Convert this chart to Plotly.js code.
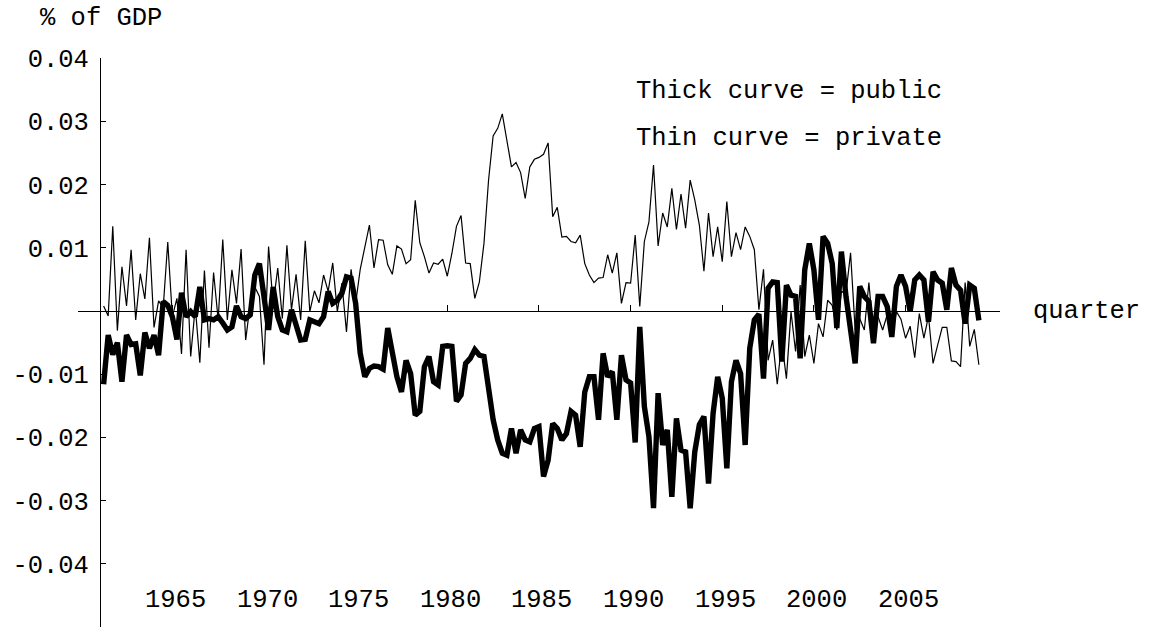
<!DOCTYPE html>
<html>
<head>
<meta charset="utf-8">
<script src="https://cdn.plot.ly/plotly-3.0.1.min.js"></script>
<style>
  html, body { margin: 0; padding: 0; background: #ffffff; }
  #chart { width: 1151px; height: 627px; }
</style>
</head>
<body>
<div id="chart"></div>
<script>
// Quarterly series, first observation 1961 Q2 (x = 1961.25), step one quarter
const firstQuarter = 1961.25;

// Private (thin curve), % of GDP
const privateSeries = [
  0.0008,-0.0008,0.0134,-0.0031,0.0070,0.0008,0.0097,-0.0014,0.0059,0.0019,
  0.0116,-0.0026,0.0016,0.0005,0.0109,-0.0009,0.0020,-0.0068,0.0097,-0.0072,
  0.0007,-0.0082,0.0064,-0.0058,0.0061,-0.0014,0.0113,-0.0014,0.0065,0.0012,
  0.0098,-0.0046,0.0012,0.0038,0.0023,-0.0085,0.0102,0.0010,0.0068,-0.0012,
  0.0104,0.0002,0.0058,-0.0014,0.0111,-0.0001,0.0032,0.0013,0.0057,0.0031,
  0.0076,-0.0001,0.0044,-0.0033,0.0066,0.0012,0.0066,0.0099,0.0136,0.0068,
  0.0113,0.0112,0.0073,0.0058,0.0103,0.0098,0.0075,0.0081,0.0175,0.0108,
  0.0086,0.0060,0.0076,0.0074,0.0082,0.0055,0.0091,0.0134,0.0151,0.0076,
  0.0075,0.0020,0.0046,0.0107,0.0207,0.0277,0.0289,0.0312,0.0268,0.0228,
  0.0235,0.0219,0.0178,0.0228,0.0240,0.0243,0.0248,0.0266,0.0149,0.0164,
  0.0117,0.0118,0.0110,0.0108,0.0120,0.0075,0.0057,0.0045,0.0052,0.0053,
  0.0089,0.0060,0.0092,0.0012,0.0045,0.0044,0.0120,0.0007,0.0110,0.0141,
  0.0231,0.0103,0.0155,0.0133,0.0194,0.0129,0.0185,0.0131,0.0207,0.0176,
  0.0136,0.0063,0.0155,0.0086,0.0133,0.0078,0.0173,0.0086,0.0124,0.0097,
  0.0133,0.0118,0.0097,0.0002,0.0066,-0.0078,-0.0046,-0.0116,-0.0049,-0.0107,
  -0.0001,-0.0064,0.0041,-0.0072,-0.0038,-0.0083,-0.0020,-0.0041,0.0017,0.0009,
  -0.0030,0.0031,0.0028,0.0092,-0.0030,-0.0012,-0.0030,0.0045,-0.0038,-0.0009,
  -0.0030,-0.0006,-0.0041,-0.0001,-0.0013,-0.0043,-0.0024,-0.0074,-0.0004,-0.0043,
  -0.0008,-0.0083,-0.0054,-0.0026,-0.0026,-0.0079,-0.0080,-0.0088,0.0045,-0.0056,
  -0.0029,-0.0085
];

// Public (thick curve), % of GDP
const publicSeries = [
  -0.0116,-0.0038,-0.0069,-0.0050,-0.0112,-0.0038,-0.0053,-0.0052,-0.0102,-0.0034,
  -0.0059,-0.0038,-0.0070,0.0015,0.0009,-0.0009,-0.0045,0.0029,-0.0009,-0.0001,
  -0.0009,0.0038,-0.0014,-0.0012,-0.0014,-0.0009,-0.0019,-0.0030,-0.0025,0.0008,
  -0.0009,-0.0012,-0.0006,0.0057,0.0075,0.0017,-0.0030,0.0038,-0.0009,-0.0030,
  -0.0033,0.0002,-0.0020,-0.0046,-0.0045,-0.0014,-0.0017,-0.0020,-0.0009,0.0031,
  0.0012,0.0017,0.0028,0.0054,0.0052,0.0012,-0.0067,-0.0104,-0.0091,-0.0087,
  -0.0088,-0.0092,-0.0027,-0.0072,-0.0104,-0.0128,-0.0078,-0.0099,-0.0165,-0.0159,
  -0.0088,-0.0072,-0.0112,-0.0117,-0.0056,-0.0055,-0.0056,-0.0143,-0.0133,-0.0083,
  -0.0075,-0.0061,-0.0070,-0.0072,-0.0125,-0.0172,-0.0204,-0.0225,-0.0228,-0.0186,
  -0.0225,-0.0188,-0.0204,-0.0207,-0.0186,-0.0183,-0.0262,-0.0236,-0.0178,-0.0186,
  -0.0204,-0.0194,-0.0159,-0.0165,-0.0215,-0.0128,-0.0104,-0.0104,-0.0172,-0.0067,
  -0.0104,-0.0096,-0.0172,-0.0070,-0.0109,-0.0114,-0.0208,-0.0025,-0.0151,-0.0199,
  -0.0312,-0.0130,-0.0212,-0.0188,-0.0294,-0.0170,-0.0220,-0.0223,-0.0312,-0.0223,
  -0.0180,-0.0167,-0.0273,-0.0162,-0.0104,-0.0138,-0.0249,-0.0112,-0.0078,-0.0099,
  -0.0212,-0.0059,-0.0014,-0.0005,-0.0107,0.0036,0.0046,0.0045,-0.0080,0.0041,
  0.0025,0.0023,-0.0075,0.0065,0.0107,0.0065,-0.0014,0.0118,0.0107,0.0075,
  -0.0027,0.0094,0.0023,-0.0025,-0.0083,0.0039,0.0023,0.0015,-0.0051,0.0023,
  0.0023,0.0007,-0.0041,0.0039,0.0057,0.0039,-0.0001,0.0049,0.0057,0.0049,
  -0.0017,0.0062,0.0049,0.0044,0.0002,0.0068,0.0041,0.0033,-0.0020,0.0041,
  0.0036,-0.0015
];

// Axis ticks and labels
const yTickValues = [0.04, 0.03, 0.02, 0.01, -0.01, -0.02, -0.03, -0.04];
const yTickLabels = ["0.04", "0.03", "0.02", "0.01", "-0.01", "-0.02", "-0.03", "-0.04"];
const xTickValues = [1965, 1970, 1975, 1980, 1985, 1990, 1995, 2000, 2005];
const xTickLabels = ["1965", "1970", "1975", "1980", "1985", "1990", "1995", "2000", "2005"];

const yAxisLabel = "% of GDP";
const xAxisLabel = "quarter";
const keyLines = ["Thick curve = public", "Thin curve = private"];

const quarters = publicSeries.map((_, i) => firstQuarter + i / 4);

const FONT = "Liberation Mono, Courier New, monospace";
const FS = 25.5;
const textFont = { family: FONT, size: FS, color: "#000000" };

const xRange = [1959.853, 2010.152];
const traces = [
  {
    x: quarters, y: privateSeries, type: "scatter", mode: "lines",
    line: { color: "#000000", width: 1.2 }, hoverinfo: "skip", name: "private"
  },
  {
    x: quarters, y: publicSeries, type: "scatter", mode: "lines",
    line: { color: "#000000", width: 5.4 }, hoverinfo: "skip", name: "public"
  }
];

const annotations = [
  { xref: "paper", yref: "paper", x: 38 / 1151, y: 1 - 18 / 627,
    xanchor: "left", yanchor: "middle", text: yAxisLabel, showarrow: false, font: textFont },
  { xref: "paper", yref: "y", x: 1031 / 1151, y: 0,
    xanchor: "left", yanchor: "middle", text: xAxisLabel, showarrow: false, font: textFont },
  { xref: "paper", yref: "paper", x: 634 / 1151, y: 1 - 91 / 627,
    xanchor: "left", yanchor: "middle", text: keyLines[0], showarrow: false, font: textFont },
  { xref: "paper", yref: "paper", x: 634 / 1151, y: 1 - 139 / 627,
    xanchor: "left", yanchor: "middle", text: keyLines[1], showarrow: false, font: textFont }
];
// year labels along the bottom, one per x tick
xTickValues.forEach((v, k) => {
  annotations.push({
    xref: "x", yref: "paper", x: v, y: 1 - 600 / 627,
    xanchor: "center", yanchor: "middle", xshift: 3,
    text: xTickLabels[k], showarrow: false, font: textFont
  });
});

const layout = {
  width: 1151, height: 627,
  margin: { l: 0, r: 0, t: 0, b: 0, pad: 0 },
  paper_bgcolor: "#ffffff", plot_bgcolor: "#ffffff",
  showlegend: false,
  font: textFont,
  xaxis: {
    domain: [78 / 1151, 1000 / 1151],
    range: xRange,
    anchor: "free", position: 316 / 627,
    showline: true, linecolor: "#000000", linewidth: 1.3,
    showgrid: false, zeroline: false,
    tickmode: "array", tickvals: xTickValues,
    ticks: "inside", ticklen: 6, tickwidth: 1, tickcolor: "#000000",
    showticklabels: false, fixedrange: true
  },
  yaxis: {
    domain: [0, 568.8 / 627],
    range: [-0.05, 0.04],
    anchor: "free", position: 100 / 1151,
    showline: true, linecolor: "#000000", linewidth: 1,
    showgrid: false, zeroline: false,
    tickmode: "array", tickvals: yTickValues, ticktext: yTickLabels,
    ticks: "inside", ticklen: 5, tickwidth: 1, tickcolor: "#000000",
    ticklabelstandoff: 6,
    tickfont: textFont,
    fixedrange: true
  },
  annotations: annotations
};

Plotly.newPlot("chart", traces, layout, { displayModeBar: false, staticPlot: true });
</script>
</body>
</html>
